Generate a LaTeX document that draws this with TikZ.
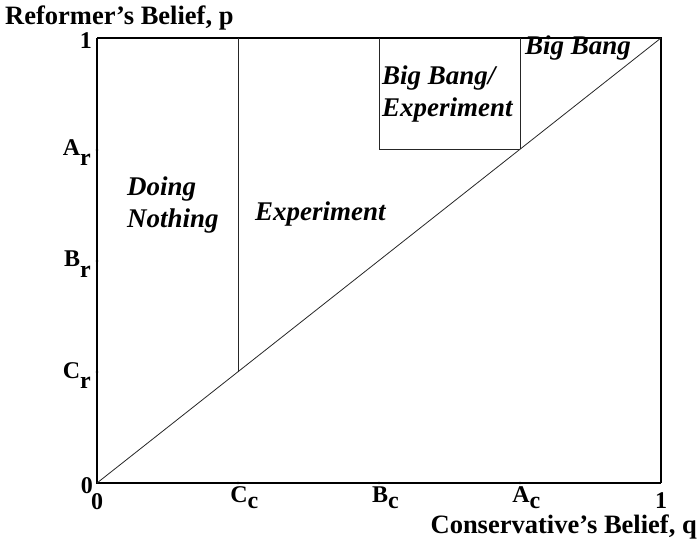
\documentclass[tikz,border=0pt]{standalone}
\usepackage{fontspec}
\setmainfont{Liberation Serif}
\begin{document}
\begin{tikzpicture}[x=1pt,y=-1pt,
  axis/.style={line width=1.8pt,black},
  frame/.style={line width=1.1pt,black},
  thin/.style={line width=0.8pt,black!85},
  region/.style={font=\fontsize{27}{32}\selectfont\bfseries\itshape,inner sep=0pt,align=left},
  title/.style={font=\fontsize{26.5}{30}\selectfont\bfseries,inner sep=0pt},
  ticklab/.style={font=\fontsize{24}{28}\selectfont\bfseries,inner sep=0pt},
  tickdot/.style={circle,fill=black,inner sep=0pt,minimum size=2.6pt}]
\useasboundingbox (0,0) rectangle (699,548);
% corners
\coordinate (O) at (97,483);
\coordinate (Q1) at (661,483);
\coordinate (P1) at (97,38);
\coordinate (TR) at (661,38);
% tick coordinates
\coordinate (Ar) at (97,150);
\coordinate (Br) at (97,261);
\coordinate (Cr) at (97,372);
\coordinate (Cc) at (238,483);
\coordinate (Bc) at (379,483);
\coordinate (Ac) at (520,483);
% inner points
\coordinate (CcTop) at (238,38);
\coordinate (CcDiag) at (238,372);
\coordinate (BcTop) at (379,38);
\coordinate (BcMid) at (379,149);
\coordinate (AcTop) at (520,38);
\coordinate (AcMid) at (520,149);
% frame
\draw[frame] (P1) -- (TR) -- (Q1);
\draw[axis] (P1) -- (O) -- (Q1);
% diagonal and region boundaries
\draw[thin] (O) -- (TR);
\draw[thin] (CcTop) -- (CcDiag);
\draw[thin] (BcTop) -- (BcMid) -- (AcMid);
\draw[thin] (AcTop) -- (AcMid);
% ticks
\foreach \t in {Ar,Br,Cr,Cc,Bc,Ac} \node[tickdot] (d\t) at (\t) {};
% axis titles
\node[title,anchor=base west] (ytitle) at (5,25) {Reformer’s Belief, p};
\node[title,anchor=base east] (xtitle) at (697,533) {Conservative’s Belief, q};
% tick labels
\node[ticklab,anchor=base east] (one-y) at (92,49) {1};
\node[ticklab,anchor=base east] (zero-y) at (93,493) {0};
\node[ticklab,anchor=base] (zero-x) at (97,509) {0};
\node[ticklab,anchor=base] (one-x) at (661,508) {1};
\node[ticklab,anchor=base east] (lAr) at (91,156) {A\raisebox{-10pt}{r}};
\node[ticklab,anchor=base east] (lBr) at (91,267) {B\raisebox{-10pt}{r}};
\node[ticklab,anchor=base east] (lCr) at (91,378) {C\raisebox{-10pt}{r}};
\node[ticklab,anchor=base] (lCc) at (239,502) {C\rlap{\raisebox{-6pt}{c}}};
\node[ticklab,anchor=base] (lBc) at (380,502) {B\rlap{\raisebox{-6pt}{c}}};
\node[ticklab,anchor=base] (lAc) at (521,502) {A\rlap{\raisebox{-6pt}{c}}};
% region labels
\node[region,anchor=base west] (doing) at (127,228) {Doing\\Nothing};
\node[region,anchor=base west] (exper) at (255,221) {Experiment};
\node[region,anchor=base west] (bbexp) at (382,117) {Big Bang/\\Experiment};
\node[region,anchor=base west] (bb) at (525,55) {Big Bang};
\end{tikzpicture}
\end{document}
